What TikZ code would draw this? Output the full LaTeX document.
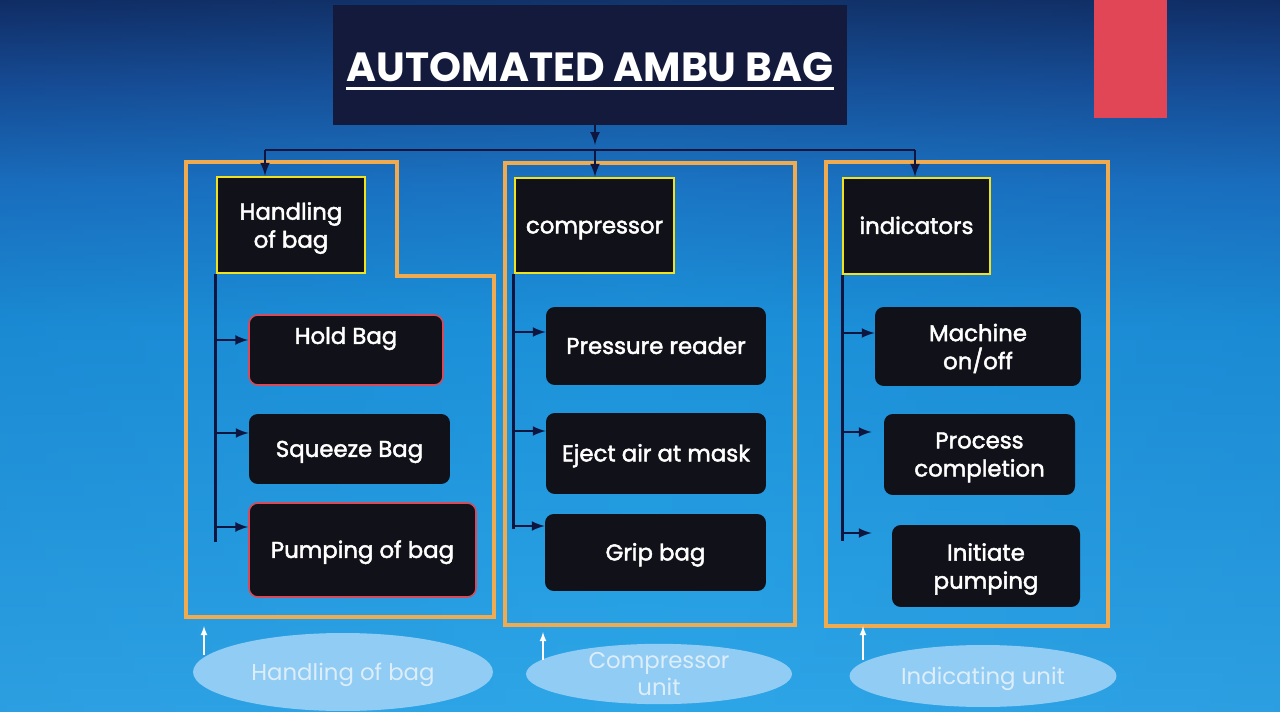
\documentclass[tikz,border=0pt]{standalone}
\usepackage{fontspec}
\setmainfont{Poppins}
\newfontfamily\boxfont[FakeBold=2]{Poppins}
\usetikzlibrary{shapes.geometric,calc}

\definecolor{bgtop}{HTML}{102458}
\definecolor{bgupper}{HTML}{164890}
\definecolor{bgsky}{HTML}{1A70C0}
\definecolor{bgmid}{HTML}{1C92DA}
\definecolor{bgbot}{HTML}{30AAEA}
\definecolor{bgedge}{HTML}{1560B0}
\definecolor{titlefill}{HTML}{131A3C}
\definecolor{boxfill}{HTML}{111119}
\definecolor{hdrline}{HTML}{F0E21E}
\definecolor{redline}{HTML}{D84A5A}
\definecolor{framecol}{HTML}{F0AA50}
\definecolor{wirecol}{HTML}{0E1640}
\definecolor{flag}{HTML}{E04656}
\definecolor{ellfill}{HTML}{90CCF4}
\definecolor{elltext}{HTML}{DDEEFA}

% the filled path covers 25bp to 75bp of the shading
\pgfdeclareverticalshading{slidebg}{100bp}{color(0bp)=(bgbot); color(25bp)=(bgbot); color(52bp)=(bgmid); color(62bp)=(bgsky); color(69bp)=(bgupper); color(75bp)=(bgtop); color(100bp)=(bgtop)}

\begin{document}
\begin{tikzpicture}[x=0.02cm, y=-0.02cm,
    hdr/.style={draw=hdrline, line width=1.5pt, fill=boxfill, text=white, inner sep=0pt,
        align=center, font=\boxfont\fontsize{13}{16}\selectfont},
    item/.style={fill=boxfill, rounded corners=5pt, text=white, inner sep=0pt,
        align=center, font=\boxfont\fontsize{13}{16}\selectfont},
    reditem/.style={item, draw=redline, line width=0.9pt},
    oneline/.style={text height=0.9em, text depth=0pt},
    wire/.style={wirecol, line width=1.5pt},
    arr/.style={wire, -latex},
    frame/.style={framecol, line width=2pt},
    unit/.style={ellipse, fill=ellfill, inner sep=0pt, text=elltext,
        align=center, font=\fontsize{13}{15}\selectfont},
    uparr/.style={white, line width=0.8pt, -latex}]
    % slide background
    \shade[shading=slidebg] (0,0) rectangle (1280,712);
    \shade[left color=bgedge, right color=bgedge, middle color=bgmid, opacity=0.15] (0,0) rectangle (1280,712);
    \useasboundingbox (0,0) rectangle (1280,712);
    \fill[flag] (1094,0) rectangle (1167,118);

    % title
    \node[fill=titlefill, minimum width=10.28cm, minimum height=2.4cm, inner sep=0pt] (ttlbox) at (590,65) {};
    \node[text=white, inner sep=0pt, font=\fontsize{23.2}{25}\bfseries] (ttl) at (590,67) {AUTOMATED AMBU BAG};
    \draw[white, line width=2pt] ([yshift=-0.13cm]ttl.south west) -- ([yshift=-0.13cm]ttl.south east);

    % orange frames
    \draw[frame] (186,162) -- (397,162) -- (397,276) -- (494,276) -- (494,617) -- (186,617) -- cycle;
    \draw[frame] (505,163) rectangle (795,625);
    \draw[frame] (826,162) rectangle (1108,626);
    \coordinate (f1) at (204,617);
    \coordinate (f2) at (543,625);
    \coordinate (f3) at (863,626);

    % headers
    \node[hdr, minimum width=2.96cm, minimum height=1.92cm, text depth=0pt] (h1) at (291,225) {Handling\\of bag};
    \node[hdr, oneline, minimum width=3.18cm, minimum height=1.9cm] (h2) at (594.5,225.5) {compressor};
    \node[hdr, oneline, minimum width=2.94cm, minimum height=1.92cm] (h3) at (916.5,226) {indicators};

    % handling of bag
    \node[reditem, oneline, minimum width=3.88cm, minimum height=1.4cm, text depth=0.56cm] (c1a) at (346,350) {Hold Bag};
    \node[item, oneline, minimum width=4.02cm, minimum height=1.4cm] (c1b) at (349.5,449) {Squeeze Bag};
    \node[reditem, oneline, minimum width=4.54cm, minimum height=1.88cm] (c1c) at (362.5,550) {Pumping of bag};
    % compressor
    \node[item, oneline, minimum width=4.4cm, minimum height=1.56cm] (c2a) at (656,346) {Pressure reader};
    \node[item, oneline, minimum width=4.4cm, minimum height=1.62cm] (c2b) at (656,453.5) {Eject air at mask};
    \node[item, oneline, minimum width=4.42cm, minimum height=1.54cm] (c2c) at (655.5,552.5) {Grip bag};
    % indicators
    \node[item, minimum width=4.12cm, minimum height=1.58cm, text depth=0pt] (c3a) at (978,346.5) {Machine\\on/off};
    \node[item, minimum width=3.82cm, minimum height=1.62cm, text depth=0pt] (c3b) at (979.5,454.5) {Process\\completion};
    \node[item, minimum width=3.76cm, minimum height=1.64cm, text depth=0pt] (c3c) at (986,566) {Initiate\\pumping};

    % tree from title
    \coordinate (bus) at (595,150);
    \draw[arr] (ttlbox.south -| bus) -- ([yshift=0.1cm]bus);
    \draw[wire] (bus -| 265,0) -- (bus -| 915,0);
    \draw[arr] (bus -| 265,0) -- (h1.north -| 265,0);
    \draw[arr] (bus) -- (h2.north -| bus);
    \draw[arr] (bus -| 915,0) -- (h3.north -| 915,0);

    % branches
    \draw[wire] (h1.south west) -- ++(0,268);
    \draw[arr] (h1.south west |- 0,340) -- (c1a.west |- 0,340);
    \draw[arr] (h1.south west |- 0,433) -- (c1b.west |- 0,433);
    \draw[arr] (h1.south west |- 0,527) -- (c1c.west |- 0,527);
    \draw[wire] (h2.south west) -- ++(0,255);
    \draw[arr] (h2.south west |- 0,332) -- (c2a.west |- 0,332);
    \draw[arr] (h2.south west |- 0,431) -- (c2b.west |- 0,431);
    \draw[arr] (h2.south west |- 0,526) -- (c2c.west |- 0,526);
    \draw[wire] ([xshift=0.02cm]h3.south west) -- ++(0,266);
    \draw[arr] ([xshift=0.02cm]h3.south west |- 0,333) -- (c3a.west |- 0,333);
    \draw[arr, shorten >=12*0.02cm] ([xshift=0.02cm]h3.south west |- 0,432) -- (c3b.west |- 0,432);
    \draw[arr, shorten >=20*0.02cm] ([xshift=0.02cm]h3.south west |- 0,533) -- (c3c.west |- 0,533);

    % unit labels
    \node[unit, minimum width=6.0cm, minimum height=1.56cm, text depth=0pt] (e1) at (343,672) {Handling of bag};
    \node[unit, minimum width=5.32cm, minimum height=1.18cm] (e2) at (659,674) {Compressor\\unit};
    \node[unit, minimum width=5.34cm, minimum height=1.24cm, text depth=0pt] (e3) at (983,676) {Indicating unit};
    \coordinate (u1) at (204,655);
    \coordinate (u2) at (543,660);
    \coordinate (u3) at (863,660);
    \draw[uparr, shorten >=0.18cm] (u1) -- (f1);
    \draw[uparr, shorten >=0.14cm] (u2) -- (f2);
    \draw[uparr] (u3) -- (f3);
\end{tikzpicture}
\end{document}
